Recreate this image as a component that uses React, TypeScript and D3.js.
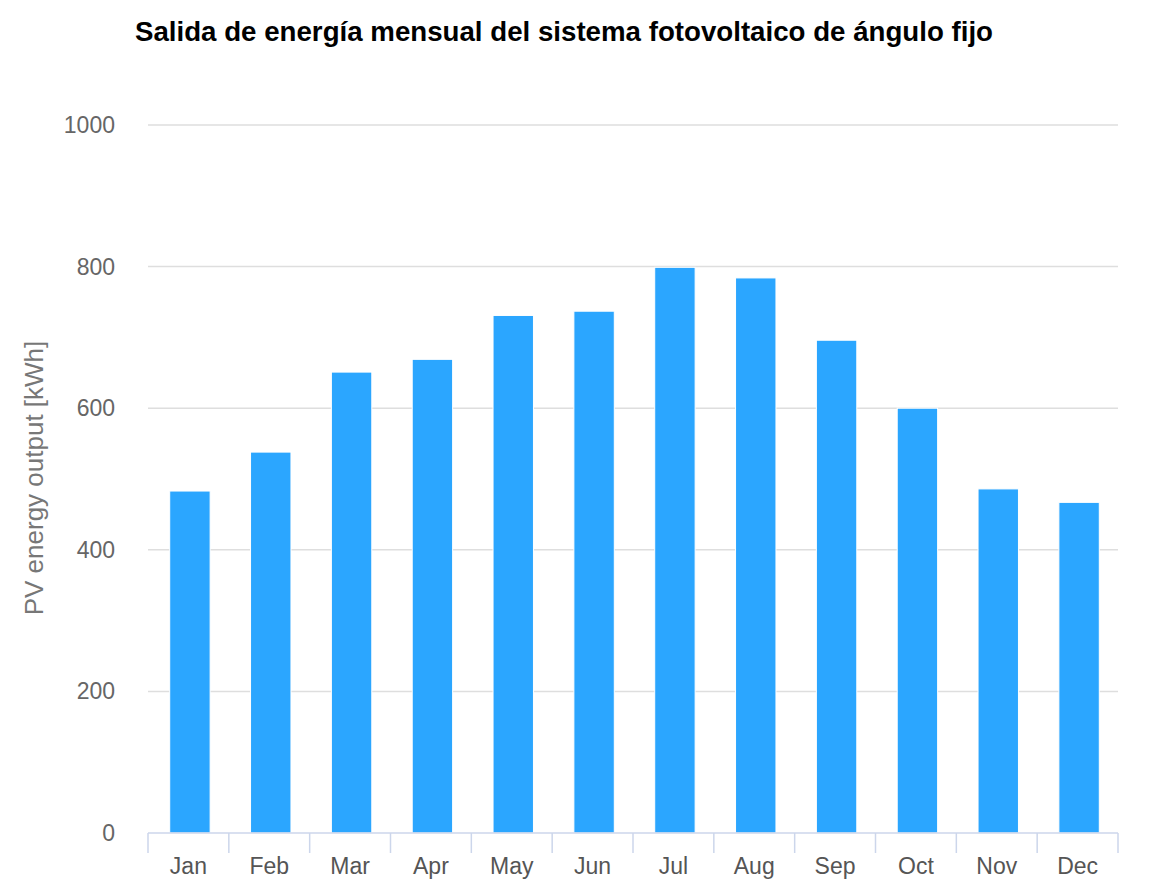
import * as d3 from 'd3';

const months = ['Jan', 'Feb', 'Mar', 'Apr', 'May', 'Jun', 'Jul', 'Aug', 'Sep', 'Oct', 'Nov', 'Dec'];
const output = [483, 538, 651, 669, 731, 737, 799, 784, 696, 600, 486, 467];
const yTicks = [0, 200, 400, 600, 800, 1000];

const title = 'Salida de energía mensual del sistema fotovoltaico de ángulo fijo';
const yTitle = 'PV energy output [kWh]';

export default function App() {
  const width = 1172;
  const height = 888;
  const left = 148;
  const right = 1118;
  const top = 125;
  const bottom = 833;

  const x = d3.scaleBand<string>().domain(months).range([left, right]).paddingInner(0.5).paddingOuter(0.25);
  const band = d3.scaleBand<string>().domain(months).range([left, right]);
  const y = d3.scaleLinear().domain([0, 1000]).range([bottom, top]);

  const font = '"Liberation Sans", Arial, Helvetica, sans-serif';

  return (
    <svg
      width={width}
      height={height}
      style={{ position: 'absolute', left: 0, top: 0, background: '#fff' }}
      fontFamily={font}
    >
      <text x={135} y={41} fontSize={27.5} fontWeight='bold' fill='#000' textLength={858} lengthAdjust='spacingAndGlyphs'>
        {title}
      </text>

      {/* grid */}
      {yTicks.map((t) => (
        <g key={t}>
          {t > 0 && <line x1={left} x2={right} y1={y(t)} y2={y(t)} stroke='#dedede' strokeWidth={1.5} />}
          <text x={115} y={y(t) + 8} textAnchor='end' fontSize={23} fill='#666'>
            {t}
          </text>
        </g>
      ))}

      <text
        transform={`translate(43,${478}) rotate(-90)`}
        textAnchor='middle'
        fontSize={26}
        fill='#777'
      >
        {yTitle}
      </text>

      {/* bars */}
      {months.map((m, i) => (
        <rect
          key={m}
          x={(x(m) as number) + 1.5}
          y={y(output[i])}
          width={x.bandwidth()}
          height={bottom - y(output[i])}
          fill='#2ba6ff'
          stroke='#fff'
          strokeWidth={1}
        />
      ))}

      {/* x axis */}
      <line x1={left} x2={right} y1={bottom} y2={bottom} stroke='#ccd6eb' strokeWidth={1.5} />
      {[...months.map((m) => band(m) as number), right].map((px, i) => (
        <line key={i} x1={px} x2={px} y1={bottom} y2={bottom + 20} stroke='#ccd6eb' strokeWidth={1.5} />
      ))}
      {months.map((m) => (
        <text
          key={m}
          x={(band(m) as number) + band.bandwidth() / 2}
          y={874}
          textAnchor='middle'
          fontSize={23}
          fill='#555'
        >
          {m}
        </text>
      ))}
    </svg>
  );
}
